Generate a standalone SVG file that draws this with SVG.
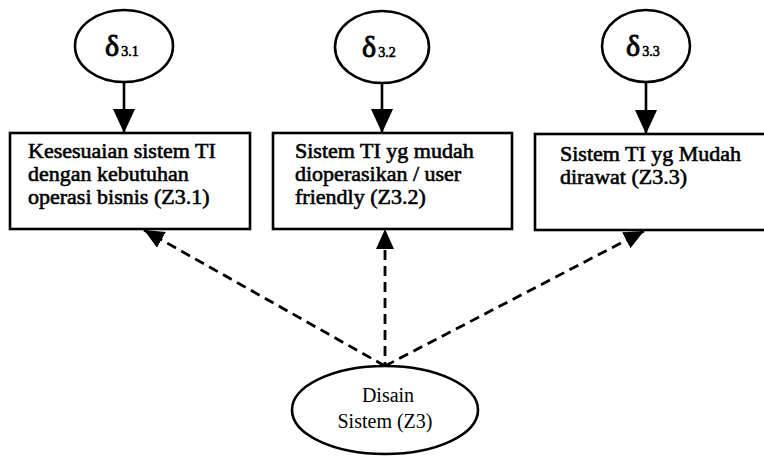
<svg xmlns="http://www.w3.org/2000/svg" width="764" height="458" viewBox="0 0 764 458">
  <style>
    .shape { fill: #ffffff; stroke: #000000; stroke-width: 2.6; }
    .solid { stroke: #000000; stroke-width: 2.6; fill: none; }
    .dash { stroke: #000000; stroke-width: 2.8; fill: none; stroke-dasharray: 10 6; }
    .label { font-family: "Liberation Serif", "Times New Roman", serif; font-size: 22px; fill: #000000; stroke: #000000; stroke-width: 0.6; }
    .main { font-family: "Liberation Serif", "Times New Roman", serif; font-size: 20px; fill: #000000; }
    .delta { font-family: "Liberation Serif", "Times New Roman", serif; font-size: 30px; fill: #000000; stroke: #000000; stroke-width: 0.9; }
    .sub { font-size: 14px; stroke-width: 0.6; }
  </style>
  <defs>
    <marker id="headSolid" viewBox="0 0 24 22" refX="24" refY="11" markerWidth="24" markerHeight="22" markerUnits="userSpaceOnUse" orient="auto">
      <path d="M0,0 L24,11 L0,22 Z" fill="#000000"/>
    </marker>
    <marker id="headDash" viewBox="0 0 20 18" refX="20" refY="9" markerWidth="20" markerHeight="18" markerUnits="userSpaceOnUse" orient="auto">
      <path d="M0,0 L20,9 L0,18 Z" fill="#000000"/>
    </marker>
  </defs>

  <!-- connectors -->
  <g id="connectors">
    <line class="solid" x1="124" y1="82" x2="124" y2="133" marker-end="url(#headSolid)"/>
    <line class="solid" x1="382" y1="83" x2="382" y2="133" marker-end="url(#headSolid)"/>
    <line class="solid" x1="646" y1="82" x2="646" y2="134" marker-end="url(#headSolid)"/>
    <line class="dash" x1="385" y1="366" x2="144" y2="230" marker-end="url(#headDash)"/>
    <line class="dash" x1="385" y1="372" x2="385" y2="229" marker-end="url(#headDash)"/>
    <line class="dash" x1="385" y1="366" x2="644" y2="231" marker-end="url(#headDash)"/>
  </g>

  <!-- error terms -->
  <g id="delta31">
    <ellipse class="shape" cx="124" cy="46" rx="49" ry="36"/>
    <text class="delta" x="105" y="56">δ<tspan class="sub" dx="2">3.1</tspan></text>
  </g>
  <g id="delta32">
    <ellipse class="shape" cx="382" cy="47" rx="47" ry="36"/>
    <text class="delta" x="362" y="57">δ<tspan class="sub" dx="2">3.2</tspan></text>
  </g>
  <g id="delta33">
    <ellipse class="shape" cx="646" cy="46" rx="44" ry="36"/>
    <text class="delta" x="626" y="56">δ<tspan class="sub" dx="2">3.3</tspan></text>
  </g>

  <!-- indicators -->
  <g id="z31">
    <rect class="shape" x="10" y="133" width="240" height="96"/>
    <text class="label" x="28" y="158">Kesesuaian sistem TI</text>
    <text class="label" x="28" y="181">dengan kebutuhan</text>
    <text class="label" x="28" y="204">operasi bisnis (Z3.1)</text>
  </g>
  <g id="z32">
    <rect class="shape" x="273" y="133" width="239" height="96"/>
    <text class="label" x="295" y="158">Sistem TI yg mudah</text>
    <text class="label" x="295" y="181">dioperasikan / user</text>
    <text class="label" x="295" y="204">friendly (Z3.2)</text>
  </g>
  <g id="z33">
    <rect class="shape" x="535" y="134" width="240" height="96"/>
    <text class="label" x="560" y="161">Sistem TI yg Mudah</text>
    <text class="label" x="560" y="184">dirawat (Z3.3)</text>
  </g>

  <!-- latent construct -->
  <g id="z3">
    <ellipse class="shape" cx="385" cy="410" rx="93" ry="44"/>
    <text class="main" x="388" y="402" text-anchor="middle">Disain</text>
    <text class="main" x="385" y="428" text-anchor="middle">Sistem (Z3)</text>
  </g>
</svg>
